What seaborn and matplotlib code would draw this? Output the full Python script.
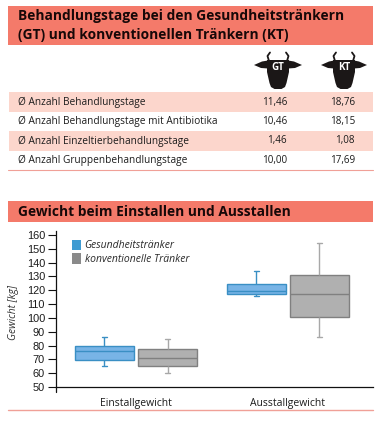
import matplotlib
matplotlib.use("Agg")
import matplotlib.pyplot as plt
from matplotlib.patches import Rectangle, Polygon, Patch
import pandas as pd
import seaborn as sns

W, H = 383, 424
sns.set_theme(style="white")
plt.rcParams['font.family'] = ['Open Sans', 'DejaVu Sans']

# ---- data ----
title_top_lines = ["Behandlungstage bei den Gesundheitstränkern", "(GT) und konventionellen Tränkern (KT)"]
title_chart = "Gewicht beim Einstallen und Ausstallen"
row_labels = ["Ø Anzahl Behandlungstage", "Ø Anzahl Behandlungstage mit Antibiotika",
              "Ø Anzahl Einzeltierbehandlungstage", "Ø Anzahl Gruppenbehandlungstage"]
gt_values = ["11,46", "10,46", "1,46", "10,00"]
kt_values = ["18,76", "18,15", "1,08", "17,69"]
categories = ["Einstallgewicht", "Ausstallgewicht"]
groups = ["Gesundheitstränker", "konventionelle Tränker"]
# five-number summaries: low whisker, q1, median, q3, high whisker
gt_ein = [65, 69.5, 76, 79.8, 86]
kt_ein = [60, 65.5, 70.8, 77.5, 84.5]
gt_aus = [115.6, 117, 119.7, 124.3, 134]
kt_aus = [86, 100.4, 117, 130.8, 154.4]
y_ticks = list(range(50, 161, 10))

BANNER = "#f47a6a"; ROW = "#fcd6cc"; RULE = "#f0a097"; INK = "#1c1c1c"; TITLE = "#170808"
GT_FILL = "#78b4e6"; GT_EDGE = "#3a8fc4"; KT_FILL = "#b0b0b0"; KT_EDGE = "#808080"; KT_WHISK = "#a8a8a8"
COW = "#1b1717"

fig = plt.figure(figsize=(W / 100, H / 100), dpi=100, facecolor="white")

# page layer in pixel coordinates
bg = fig.add_axes([0, 0, 1, 1], zorder=0)
bg.set_xlim(0, W); bg.set_ylim(H, 0); bg.axis("off")
bg.add_patch(Rectangle((8, 6), 365, 39, color=BANNER, lw=0))
bg.add_patch(Rectangle((8, 201), 365, 21, color=BANNER, lw=0))
for yy, line in zip([16, 35.5], title_top_lines):
    bg.text(18, yy, line, fontsize=9.95, fontweight="bold", color=TITLE, va="center", ha="left")
bg.text(18, 211.5, title_chart, fontsize=9.95, fontweight="bold", color=TITLE, va="center", ha="left")

row_tops = [92, 111.5, 131, 150.5]
for i, top in enumerate(row_tops):
    if i % 2 == 0:
        bg.add_patch(Rectangle((9, top), 364, 19.5, color=ROW, lw=0))
    cy = top + 10
    bg.text(18, cy, row_labels[i], fontsize=7.25, color=INK, va="center", ha="left")
    bg.text(287, cy, gt_values[i], fontsize=7.1, color=INK, va="center", ha="right")
    bg.text(355, cy, kt_values[i], fontsize=7.1, color=INK, va="center", ha="right")
bg.plot([8, 373], [169.5, 169.5], color=RULE, lw=0.8)
bg.plot([8, 373], [410, 410], color=RULE, lw=1.0)

def cow(cx, label, half):
    for sgn in (-1, 1):
        bg.add_patch(Polygon([(cx + sgn * 10, 60.5), (cx + sgn * (half - 8), 61.5), (cx + sgn * half, 65),
                              (cx + sgn * (half - 7), 68), (cx + sgn * 10, 68.5)], color=COW, lw=0))
        bg.plot([cx + sgn * 9, cx + sgn * 10.5, cx + sgn * 8], [61, 56, 52.5], color=COW, lw=1.3)
    bg.add_patch(Polygon([(cx - 11, 60), (cx + 11, 60), (cx + 11, 72), (cx + 8.5, 83), (cx + 7, 87), (cx + 3.5, 89),
                          (cx - 3.5, 89), (cx - 7, 87), (cx - 8.5, 83), (cx - 11, 72)], color=COW, lw=0))
    bg.text(cx, 67.5, label, color="white", fontsize=7, fontweight="bold", ha="center", va="center")

cow(278, "GT", 24)
cow(344, "KT", 23)

# chart
top_px, bottom_px, left_px, right_px = 231, 387, 55.5, 373
ax = fig.add_axes([left_px / W, 1 - bottom_px / H, (right_px - left_px) / W, (bottom_px - top_px) / H],
                  zorder=1, facecolor="none")

rows = []
for cat, g, vals in [(categories[0], groups[0], gt_ein), (categories[0], groups[1], kt_ein),
                     (categories[1], groups[0], gt_aus), (categories[1], groups[1], kt_aus)]:
    rows += [{"Kategorie": cat, "Gruppe": g, "Gewicht": v} for v in vals]
df = pd.DataFrame(rows)

sns.boxplot(data=df, x="Kategorie", y="Gewicht", hue="Gruppe", order=categories, hue_order=groups,
            palette=[GT_FILL, KT_FILL], saturation=1, width=0.83, gap=0.06, whis=(0, 100),
            capwidths=0.035, linewidth=1.0, fliersize=0, legend=False, ax=ax)

for cont, edge, whisk in zip(ax.containers, [GT_EDGE, KT_EDGE], [GT_EDGE, KT_WHISK]):
    for b in cont.boxes:
        b.set_edgecolor(edge)
    for m in cont.medians:
        m.set_color(edge)
    for l in list(cont.whiskers) + list(cont.caps):
        l.set_color(whisk)

ax.set_xlim(-0.53, 1.56)
ax.set_ylim(50, 50 + (bottom_px - top_px) / 1.382)
ax.set_yticks(y_ticks)
ax.set_yticklabels([str(t) for t in y_ticks], fontsize=7.9, color=INK, family=["Liberation Sans"])
ax.tick_params(axis="y", length=5.5, width=0.8, color="#111111", pad=2, left=True)
ax.tick_params(axis="x", length=0, pad=8, labelsize=7.5, labelcolor=INK)
ax.set_xlabel("")
ax.set_ylabel("Gewicht [kg]", fontsize=7.4, style="italic", color="#333333", labelpad=0)
ax.yaxis.set_label_coords((19 - left_px) / (right_px - left_px), (bottom_px - 313) / (bottom_px - top_px))
for s in ["top", "right"]:
    ax.spines[s].set_visible(False)
for s in ["left", "bottom"]:
    ax.spines[s].set_color("#111111")
    ax.spines[s].set_linewidth(0.9)
bg.plot([left_px, left_px], [387, 391.5], color="#111111", lw=0.9)

handles = [Patch(facecolor="#3f9bd2", edgecolor="none"), Patch(facecolor="#8a8a8a", edgecolor="none")]
leg = ax.legend(handles, groups, loc="upper left", bbox_to_anchor=((71.5 - left_px) / (right_px - left_px), 1 - (239.5 - top_px) / (bottom_px - top_px)),
                frameon=False, handlelength=0.9, handleheight=1.15, handletextpad=0.35, labelspacing=0.2,
                borderpad=0, borderaxespad=0, prop={"size": 7.5, "style": "italic", "family": "Open Sans"})
for t in leg.get_texts():
    t.set_color("#2a2a2a")

fig.savefig("out.png", dpi=100)
